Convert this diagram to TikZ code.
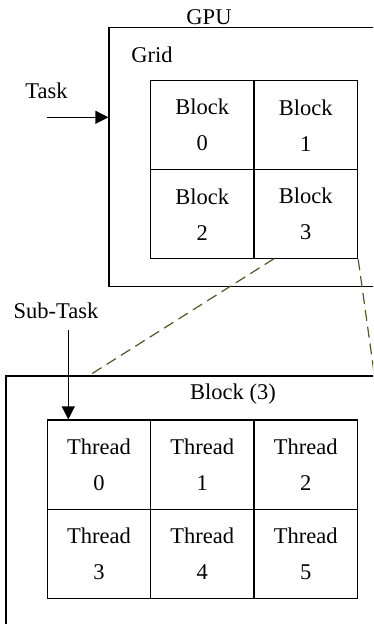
\documentclass[tikz,border=0pt]{standalone}
\usepackage{fontspec}
\setmainfont{Liberation Serif}
\usetikzlibrary{arrows.meta}
\definecolor{dashc}{RGB}{78,88,40}
\begin{document}
\begin{tikzpicture}[x=1pt,y=-1pt,
  every node/.style={font=\fontsize{22.5}{36}\selectfont, inner sep=0pt},
  box/.style={draw, line width=1.3pt},
  cell/.style={draw, line width=1.3pt, minimum width=103.5pt, minimum height=89pt, align=center},
  arr/.style={line width=1.3pt, -{Triangle[length=13pt,width=13pt]}},
  zoomline/.style={draw=dashc, line width=1.2pt, dash pattern=on 11pt off 6pt}]
\useasboundingbox (0,0) rectangle (373,624);
\clip (0,0) rectangle (373,624);
% GPU box
\node[box, minimum width=291pt, minimum height=259pt] (gpu) at (254.5,157.2) {};
\node (gpulbl) at (209,17) {GPU};
\node (gridlbl) at (152,55) {Grid};
\node (tasklbl) at (46.5,90.7) {Task};
% blocks
\node[cell] (b0) at (202.2,125.2) {Block\\0};
\node[cell] (b1) at (305.8,125.2) {Block\\1};
\node[cell] (b2) at (202.2,214.2) {Block\\2};
\node[cell] (b3) at (305.8,214.2) {Block\\3};
% Block(3) box
\node[box, minimum width=394pt, minimum height=264pt] (blk) at (203,508) {};
\node (blklbl) at (233,394) {Block (3)};
\node (sublbl) at (56,311) {Sub-Task};
% threads
\node[cell, minimum width=103.4pt, minimum height=89.2pt] (t0) at (99,464.6) {Thread\\0};
\node[cell, minimum width=103.4pt, minimum height=89.2pt] (t1) at (202.3,464.6) {Thread\\1};
\node[cell, minimum width=103.4pt, minimum height=89.2pt] (t2) at (305.7,464.6) {Thread\\2};
\node[cell, minimum width=103.4pt, minimum height=89.2pt] (t3) at (99,553.8) {Thread\\3};
\node[cell, minimum width=103.4pt, minimum height=89.2pt] (t4) at (202.3,553.8) {Thread\\4};
\node[cell, minimum width=103.4pt, minimum height=89.2pt] (t5) at (305.7,553.8) {Thread\\5};
% arrows
\coordinate (taskstart) at (46.7,117.3);
\draw[arr] (taskstart) -- (taskstart -| gpu.west);
\coordinate (substart) at (68.3,330);
\draw[arr] (substart) -- (substart |- t0.north);
% dashed zoom lines
\coordinate (d1a) at (274,258.7);
\coordinate (d1b) at (88.3,376);
\coordinate (d2b) at (374.5,376);
\draw[zoomline] (d1a) -- (d1b);
\draw[zoomline] (b3.south east) -- (d2b);
\end{tikzpicture}
\end{document}
